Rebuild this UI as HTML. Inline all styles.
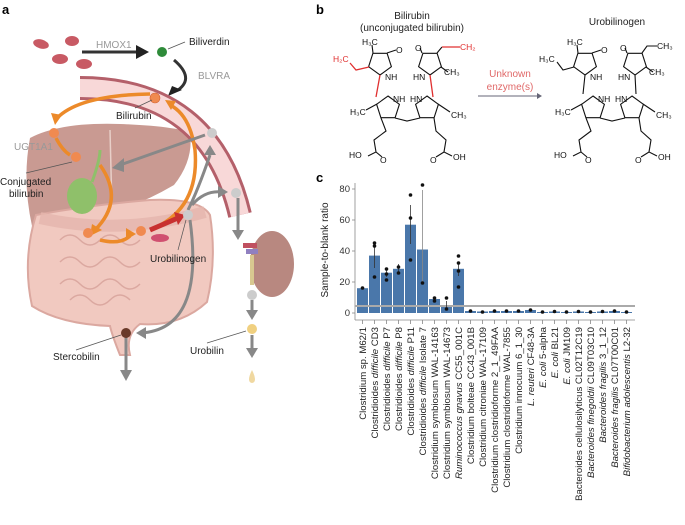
<!DOCTYPE html>
<html><head><meta charset="utf-8"><style>
html,body{margin:0;padding:0;background:#fff;}
svg{display:block;font-family:"Liberation Sans",sans-serif;}
</style></head><body>
<svg width="685" height="525" viewBox="0 0 685 525">
<text x="2" y="14" font-size="13" font-weight="bold">a</text>
<text x="316" y="14" font-size="13" font-weight="bold">b</text>
<text x="316" y="182" font-size="13" font-weight="bold">c</text>

<g>
<ellipse cx="41" cy="44" rx="8" ry="4.5" fill="#c85a64" transform="rotate(15 41 44)"/>
<ellipse cx="72" cy="41" rx="7" ry="5" fill="#c85a64"/>
<ellipse cx="60" cy="59" rx="8" ry="5" fill="#c85a64"/>
<ellipse cx="84" cy="64" rx="8" ry="5" fill="#c85a64"/>
<text x="96" y="48" font-size="10" fill="#999">HMOX1</text>
<line x1="82" y1="52" x2="138" y2="52" stroke="#333" stroke-width="3"/>
<polygon points="136,45 149,52 136,59" fill="#222"/>
<circle cx="162" cy="52" r="5" fill="#2e8b3a"/>
<line x1="168" y1="49" x2="185" y2="42" stroke="#555" stroke-width="0.8"/>
<text x="189" y="45" font-size="10" fill="#222">Biliverdin</text>
<text x="198" y="79" font-size="10" fill="#999">BLVRA</text>
<path d="M174,60 Q195,78 178,90" fill="none" stroke="#333" stroke-width="3"/>
<polygon points="168,96 172,86 182,90" fill="#222"/>

<path d="M30,138 Q60,122 120,124 Q170,126 190,132 Q194,160 174,185 Q140,205 110,212 L100,232 Q60,230 32,226 Q22,180 30,138 Z" fill="#c99a92"/>
<path d="M110,130 L112,210" stroke="#e8cfc8" stroke-width="1.5"/>
<path d="M36,215 Q90,205 150,200 Q200,198 210,215 Q217,260 207,302 Q180,327 140,324 Q125,335 130,355 L120,355 Q112,335 110,326 Q60,324 32,306 Q22,260 36,215 Z" fill="#f1c9c0" stroke="#dba8a0" stroke-width="2"/>
<path d="M60,240 q10,-10 20,0 t20,0 t20,0 t20,0 M60,262 q10,-10 20,0 t20,0 t20,0 t20,0 M60,284 q10,-10 20,0 t20,0 t20,0 t20,0 M70,300 q10,-10 20,0 t20,0 t20,0" fill="none" stroke="#dba8a0" stroke-width="1.5"/>
<path d="M40,218 Q120,236 205,212" fill="none" stroke="#e5b5ac" stroke-width="12" opacity="0.8"/>
<ellipse cx="82" cy="196" rx="15" ry="18" fill="#8fc06a"/>
<path d="M92,182 Q100,160 100,150" stroke="#8fc06a" stroke-width="3" fill="none"/>
<path d="M80,88 Q210,88 240,215" fill="none" stroke="#b4606a" stroke-width="24"/>
<path d="M80,88 Q210,88 240,215" fill="none" stroke="#f8d8d8" stroke-width="18"/>
<ellipse cx="272" cy="264" rx="22" ry="33" fill="#b88880"/>
<rect x="243" y="243" width="14" height="5" fill="#c05060"/>
<rect x="246" y="249" width="12" height="5" fill="#9080c0"/>
<line x1="252" y1="255" x2="252" y2="285" stroke="#d8c890" stroke-width="4"/>
<g fill="none" stroke="#ec8a2a" stroke-width="3.5">
<path d="M150,94 Q80,95 57,118"/>
<path d="M56,138 Q62,150 70,155"/>
<path d="M100,165 Q125,200 95,230"/>
<path d="M100,240 Q120,245 130,236"/>
<path d="M150,230 Q200,210 195,150 Q190,115 170,105"/>
</g>
<polygon points="51,113 62,115 55,125" fill="#ec8a2a"/>
<polygon points="92,224 102,230 90,236" fill="#ec8a2a"/>
<polygon points="126,228 136,234 126,240" fill="#ec8a2a"/>
<polygon points="165,100 176,101 171,110" fill="#ec8a2a"/>
<path d="M150,230 L178,218" stroke="#c83030" stroke-width="5"/>
<polygon points="174,212 185,215 178,225" fill="#c83030"/>
<ellipse cx="160" cy="238" rx="9" ry="4" fill="#d05070"/>
<g fill="none" stroke="#888" stroke-width="3">
<path d="M205,135 L120,165"/>
<path d="M188,210 Q198,190 210,155"/>
<path d="M192,205 Q205,190 222,192"/>
<path d="M190,220 Q205,330 140,333"/>
<path d="M238,198 L238,232"/>
<path d="M252,300 L252,312"/>
<path d="M252,335 L252,350"/>
<path d="M126,335 L126,372"/>
</g>
<polygon points="112,168 124,158 124,172" fill="#888"/>
<polygon points="204,155 216,155 210,145" fill="#888"/>
<polygon points="218,186 228,192 218,198" fill="#888"/>
<polygon points="136,333 146,327 146,339" fill="#888"/>
<polygon points="232,230 244,230 238,240" fill="#888"/>
<polygon points="246,310 258,310 252,320" fill="#888"/>
<polygon points="246,348 258,348 252,358" fill="#888"/>
<polygon points="120,370 132,370 126,381" fill="#888"/>
<circle cx="155" cy="98" r="5" fill="#f08a50" stroke="#d06030" stroke-width="0.6"/>
<circle cx="54" cy="133" r="5" fill="#f08a50"/>
<circle cx="76" cy="157" r="5" fill="#f08a50"/>
<circle cx="88" cy="233" r="5" fill="#f08a50"/>
<circle cx="141" cy="231" r="5" fill="#f08a50"/>
<circle cx="212" cy="133" r="5" fill="#ccc"/>
<circle cx="236" cy="193" r="5" fill="#ccc"/>
<circle cx="188" cy="215" r="5" fill="#ccc"/>
<circle cx="252" cy="295" r="5" fill="#ccc"/>
<circle cx="252" cy="329" r="5" fill="#f0d080"/>
<path d="M252,370 Q246,382 252,383 Q258,382 252,370Z" fill="#f0d8a0"/>
<circle cx="126" cy="333" r="5" fill="#6a3a2a"/>
<text x="116" y="119" font-size="10" fill="#222">Bilirubin</text>
<line x1="135" y1="108" x2="152" y2="100" stroke="#555" stroke-width="0.7"/>
<text x="14" y="150" font-size="10" fill="#999">UGT1A1</text>
<text x="0" y="185" font-size="10" fill="#222">Conjugated</text>
<text x="9" y="197" font-size="10" fill="#222">bilirubin</text>
<line x1="26" y1="173" x2="72" y2="162" stroke="#555" stroke-width="0.7"/>
<text x="150" y="262" font-size="10" fill="#222">Urobilinogen</text>
<line x1="178" y1="250" x2="186" y2="220" stroke="#555" stroke-width="0.7"/>
<text x="53" y="360" font-size="10" fill="#222">Stercobilin</text>
<line x1="76" y1="350" x2="121" y2="335" stroke="#555" stroke-width="0.7"/>
<text x="190" y="354" font-size="10" fill="#222">Urobilin</text>
<line x1="207" y1="343" x2="246" y2="331" stroke="#555" stroke-width="0.7"/>
</g>

<text x="412" y="19" font-size="10" fill="#222" text-anchor="middle">Bilirubin</text>
<text x="412" y="31" font-size="10" fill="#222" text-anchor="middle">(unconjugated bilirubin)</text>
<text x="617" y="25" font-size="10" fill="#222" text-anchor="middle">Urobilinogen</text>
<text x="510" y="77" font-size="10" fill="#e06868" text-anchor="middle">Unknown</text>
<text x="510" y="90" font-size="10" fill="#e06868" text-anchor="middle">enzyme(s)</text>
<line x1="478" y1="96" x2="540" y2="96" stroke="#667" stroke-width="0.9"/>
<polygon points="537,93 542,96 537,99" fill="#667"/>

<g stroke="#111" stroke-width="1.1" fill="none">
<polygon points="380,75 391.4,66.7 387.1,53.3 372.9,53.3 368.6,66.7"/>
<polygon points="430,75 441.4,66.7 437.1,53.3 422.9,53.3 418.6,66.7"/>
<polygon points="388,96 399.4,104.3 395.1,117.7 380.9,117.7 376.6,104.3"/>
<polygon points="427,96 438.4,104.3 434.1,117.7 419.9,117.7 415.6,104.3"/>
<path d="M387,53 L396,50 M373,53 L372,45 M437,53 L442,47 M441,67 L448,72 M377,104 L366,110 M438,104 L450,112 M395,118 L407,121 L420,118 M381,118 L386,131 L374,140 L376,152 L368,156 M376,152 L382,157 M434,118 L436,131 L446,140 L444,152 L452,156 M444,152 L436,157"/>
<path d="M422,53 L420,48"/>
</g>
<g stroke="#e03030" stroke-width="1.3" fill="none">
<path d="M369,67 L356,70 L350,63 M380,75 L376,97 M430,75 L433,97 M442,47 L460,47"/>
</g>
<g font-size="8.5" fill="#111">
<text x="362" y="45">H₃C</text><text x="396" y="53">O</text><text x="385" y="80">NH</text>
<text x="413" y="80">HN</text><text x="415" y="51">O</text><text x="444" y="75">CH₃</text>
<text x="350" y="115">H₃C</text><text x="451" y="118">CH₃</text>
<text x="393" y="102">NH</text><text x="410" y="102">HN</text>
<text x="349" y="158">HO</text><text x="380" y="163">O</text>
<text x="430" y="163">O</text><text x="453" y="160">OH</text>
<text x="333" y="62" fill="#e03030">H₂C</text><text x="460" y="50" fill="#e03030">CH₂</text>
</g>
<g transform="translate(205,0)">
<g stroke="#111" stroke-width="1.1" fill="none">
<polygon points="380,75 391.4,66.7 387.1,53.3 372.9,53.3 368.6,66.7"/>
<polygon points="430,75 441.4,66.7 437.1,53.3 422.9,53.3 418.6,66.7"/>
<polygon points="388,96 399.4,104.3 395.1,117.7 380.9,117.7 376.6,104.3"/>
<polygon points="427,96 438.4,104.3 434.1,117.7 419.9,117.7 415.6,104.3"/>
<path d="M387,53 L396,50 M373,53 L372,45 M441,67 L448,72 M377,104 L366,110 M438,104 L450,112 M395,118 L407,121 L420,118 M381,118 L386,131 L374,140 L376,152 L368,156 M376,152 L382,157 M434,118 L436,131 L446,140 L444,152 L452,156 M444,152 L436,157 M422,53 L420,48"/>
<path d="M369,67 L358,70 L352,62 M380,75 L378,94 M430,75 L431,94 M437,53 L442,46 L452,46"/>
</g>
<g font-size="8.5" fill="#111">
<text x="362" y="45">H₃C</text><text x="396" y="53">O</text><text x="385" y="80">NH</text>
<text x="413" y="80">HN</text><text x="415" y="51">O</text><text x="444" y="75">CH₃</text>
<text x="350" y="115">H₃C</text><text x="451" y="118">CH₃</text>
<text x="393" y="102">NH</text><text x="410" y="102">HN</text>
<text x="349" y="158">HO</text><text x="380" y="163">O</text>
<text x="430" y="163">O</text><text x="453" y="160">OH</text>
<text x="334" y="62">H₃C</text><text x="452" y="49">CH₃</text>
</g>
</g>

<text transform="translate(328,250) rotate(-90)" font-size="10" fill="#222" text-anchor="middle">Sample-to-blank ratio</text>
<line x1="355" y1="183" x2="355" y2="320" stroke="#888" stroke-width="0.8"/>
<line x1="355" y1="320" x2="635" y2="320" stroke="#888" stroke-width="0.8"/>
<g font-size="9.5" fill="#333" text-anchor="end">
<text x="350" y="316">0</text><text x="350" y="285">20</text><text x="350" y="254">40</text><text x="350" y="223">60</text><text x="350" y="192">80</text>
</g>
<g stroke="#888" stroke-width="0.8">
<line x1="352" y1="313" x2="355" y2="313"/><line x1="352" y1="282" x2="355" y2="282"/><line x1="352" y1="251" x2="355" y2="251"/><line x1="352" y1="220" x2="355" y2="220"/><line x1="352" y1="189" x2="355" y2="189"/>
</g>
<g fill="#4a77aa">
<rect x="357" y="288.2" width="11" height="24.8"/>
<rect x="369" y="255.6" width="11" height="57.4"/>
<rect x="381" y="272.7" width="11" height="40.3"/>
<rect x="393" y="268.8" width="11" height="44.2"/>
<rect x="405" y="224.7" width="11" height="88.3"/>
<rect x="417" y="249.5" width="11" height="63.5"/>
<rect x="429" y="299.0" width="11" height="14"/>
<rect x="441" y="305.3" width="11" height="7.7"/>
<rect x="453" y="268.8" width="11" height="44.2"/>
<rect x="465" y="311" width="11" height="2"/>
<rect x="477" y="311.5" width="11" height="1.5"/>
<rect x="489" y="311" width="11" height="2"/>
<rect x="501" y="311" width="11" height="2"/>
<rect x="513" y="311" width="11" height="2"/>
<rect x="525" y="310" width="11" height="3"/>
<rect x="537" y="312" width="11" height="1"/>
<rect x="549" y="311.5" width="11" height="1.5"/>
<rect x="561" y="312" width="11" height="1"/>
<rect x="573" y="311.5" width="11" height="1.5"/>
<rect x="585" y="312" width="11" height="1"/>
<rect x="597" y="311.5" width="11" height="1.5"/>
<rect x="609" y="311" width="11" height="2"/>
<rect x="621" y="312" width="11" height="1"/>
</g>
<line x1="355" y1="306" x2="635" y2="306" stroke="#aaa" stroke-width="2"/>
<g stroke="#333" stroke-width="0.8">
<line x1="374.5" y1="243" x2="374.5" y2="268"/>
<line x1="386.5" y1="268" x2="386.5" y2="277"/>
<line x1="398.5" y1="264" x2="398.5" y2="274"/>
<line x1="410.5" y1="205" x2="410.5" y2="244"/>
<line x1="422.5" y1="190" x2="422.5" y2="283" stroke="#888"/>
<line x1="434.5" y1="297" x2="434.5" y2="301"/>
<line x1="446.5" y1="301" x2="446.5" y2="310"/>
<line x1="458.5" y1="262" x2="458.5" y2="276"/>
</g>
<g fill="#111">
<circle cx="362.5" cy="288" r="1.8"/>
<circle cx="374.5" cy="243" r="1.8"/><circle cx="374.5" cy="246" r="1.8"/><circle cx="374.5" cy="277" r="1.8"/>
<circle cx="386.5" cy="269" r="1.8"/><circle cx="386.5" cy="274" r="1.8"/><circle cx="386.5" cy="280" r="1.8"/>
<circle cx="398.5" cy="267" r="1.8"/><circle cx="398.5" cy="273" r="1.8"/>
<circle cx="410.5" cy="195" r="1.8"/><circle cx="410.5" cy="218" r="1.8"/><circle cx="410.5" cy="260" r="1.8"/>
<circle cx="422.5" cy="185" r="1.8"/><circle cx="422.5" cy="283" r="1.8"/>
<circle cx="434.5" cy="298" r="1.8"/><circle cx="434.5" cy="301" r="1.8"/>
<circle cx="446.5" cy="298" r="1.8"/><circle cx="446.5" cy="309" r="1.8"/>
<circle cx="458.5" cy="256" r="1.8"/><circle cx="458.5" cy="263" r="1.8"/><circle cx="458.5" cy="271" r="1.8"/><circle cx="458.5" cy="287" r="1.8"/>
<circle cx="470.5" cy="311" r="1.8"/><circle cx="482.5" cy="312" r="1.8"/><circle cx="494.5" cy="311" r="1.8"/><circle cx="506.5" cy="311" r="1.8"/><circle cx="518.5" cy="311" r="1.8"/><circle cx="530.5" cy="310" r="1.8"/><circle cx="542.5" cy="312" r="1.8"/><circle cx="554.5" cy="311.5" r="1.8"/><circle cx="566.5" cy="312" r="1.8"/><circle cx="578.5" cy="311.5" r="1.8"/><circle cx="590.5" cy="312" r="1.8"/><circle cx="602.5" cy="311.5" r="1.8"/><circle cx="614.5" cy="311" r="1.8"/><circle cx="626.5" cy="312" r="1.8"/>
</g>
<g stroke="#888" stroke-width="0.8">
<path d="M362.5,320v4M374.5,320v4M386.5,320v4M398.5,320v4M410.5,320v4M422.5,320v4M434.5,320v4M446.5,320v4M458.5,320v4M470.5,320v4M482.5,320v4M494.5,320v4M506.5,320v4M518.5,320v4M530.5,320v4M542.5,320v4M554.5,320v4M566.5,320v4M578.5,320v4M590.5,320v4M602.5,320v4M614.5,320v4M626.5,320v4"/>
</g>
<g font-size="9.6" fill="#222" text-anchor="end">
<text transform="translate(366,327) rotate(-90)">Clostridium sp. M62/1</text>
<text transform="translate(378,327) rotate(-90)">Clostridioides <tspan font-style="italic">difficile</tspan> CD3</text>
<text transform="translate(390,327) rotate(-90)">Clostridioides <tspan font-style="italic">difficile</tspan> P7</text>
<text transform="translate(402,327) rotate(-90)">Clostridioides <tspan font-style="italic">difficile</tspan> P8</text>
<text transform="translate(414,327) rotate(-90)">Clostridioides <tspan font-style="italic">difficile</tspan> P11</text>
<text transform="translate(426,327) rotate(-90)">Clostridioides <tspan font-style="italic">difficile</tspan> Isolate 7</text>
<text transform="translate(438,327) rotate(-90)">Clostridium symbiosum WAL-14163</text>
<text transform="translate(450,327) rotate(-90)">Clostridium symbiosum WAL-14673</text>
<text transform="translate(462,327) rotate(-90)"><tspan font-style="italic">Ruminococcus gnavus</tspan> CC55_001C</text>
<text transform="translate(474,327) rotate(-90)">Clostridium bolteae CC43_001B</text>
<text transform="translate(486,327) rotate(-90)">Clostridium citroniae WAL-17109</text>
<text transform="translate(498,327) rotate(-90)">Clostridium clostridioforme 2_1_49FAA</text>
<text transform="translate(510,327) rotate(-90)">Clostridium clostridioforme WAL-7855</text>
<text transform="translate(522,327) rotate(-90)">Clostridium innocuum 6_1_30</text>
<text transform="translate(534,327) rotate(-90)"><tspan font-style="italic">L. reuteri</tspan> CF48-3A</text>
<text transform="translate(546,327) rotate(-90)"><tspan font-style="italic">E. coli</tspan> 5-alpha</text>
<text transform="translate(558,327) rotate(-90)"><tspan font-style="italic">E. coli</tspan> BL21</text>
<text transform="translate(570,327) rotate(-90)"><tspan font-style="italic">E. coli</tspan> JM109</text>
<text transform="translate(582,327) rotate(-90)">Bacteroides cellulosilyticus CL02T12C19</text>
<text transform="translate(594,327) rotate(-90)"><tspan font-style="italic">Bacteroides finegoldii</tspan> CL09T03C10</text>
<text transform="translate(606,327) rotate(-90)"><tspan font-style="italic">Bacteroides fragilis</tspan> 3_1_12</text>
<text transform="translate(618,327) rotate(-90)"><tspan font-style="italic">Bacteroides fragilis</tspan> CL07T00C01</text>
<text transform="translate(630,327) rotate(-90)"><tspan font-style="italic">Bifidobacterium adolescentis</tspan> L2-32</text>
</g>
</svg>
</body></html>
